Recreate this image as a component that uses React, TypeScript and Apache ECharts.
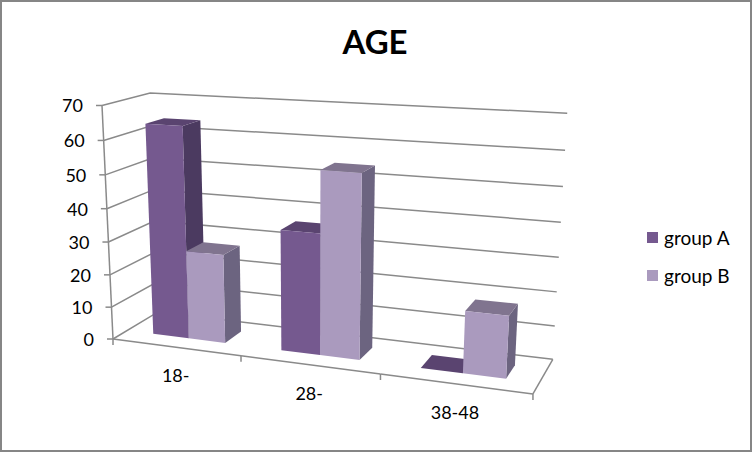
import React, { useEffect, useRef } from "react";
import * as echarts from "echarts";

const categories = ["18-", "28-", "38-48"];
const groupA = [64, 36, 0];
const groupB = [27, 54, 18];
const yTicks = [0, 10, 20, 30, 40, 50, 60, 70];
const seriesNames = ["group A", "group B"];

const FONT = "Lato, Carlito, 'Open Sans', sans-serif";
const GRID = { left: 113, top: 105.5, width: 420, height: 233.5 };
const LINE = "#8a8a8a";

// perspective frame of the Excel 3-D plot box
const O = [113, 339, 1];
const DX = [354.4, 6.5, -0.123];
const DY = [-16.4, -239.1, -0.053];
const DZ = [56.1, -5.2, 0.07];
function project(X: number, Y: number, Z: number): [number, number] {
  const h = [0, 1, 2].map((i) => O[i] + X * DX[i] + Y * DY[i] + Z * DZ[i]);
  return [h[0] / h[2], h[1] / h[2]];
}
const normY = (py: number) => (GRID.top + GRID.height - py) / GRID.height;
const normX = (px: number) => (px - GRID.left) / GRID.width;

const BAR_UNITS = 3.5; // two bars plus a 150% gap
const Z_FRONT = 0.3;
const Z_BACK = 0.7;

function barRenderer(seriesIndex: number, colors: { front: string; side: string; top: string }) {
  return (_params: any, api: any) => {
    const c = api.coord([api.value(0), api.value(1)]);
    const band = api.size([1, 0])[0] / GRID.width;
    const w = band / BAR_UNITS;
    const x0 = normX(c[0]) + (seriesIndex === 0 ? -w : 0);
    const x1 = x0 + w;
    const y = normY(c[1]);
    const poly = (pts: [number, number][], fill: string) => ({
      type: "polygon",
      shape: { points: pts },
      style: { fill, stroke: null },
    });
    const flb = project(x0, 0, Z_FRONT);
    const frb = project(x1, 0, Z_FRONT);
    const brb = project(x1, 0, Z_BACK);
    const flt = project(x0, y, Z_FRONT);
    const frt = project(x1, y, Z_FRONT);
    const brt = project(x1, y, Z_BACK);
    const blt = project(x0, y, Z_BACK);
    return {
      type: "group",
      children: [
        poly([frb, brb, brt, frt], colors.side),
        poly([flt, frt, brt, blt], colors.top),
        poly([flb, frb, frt, flt], colors.front),
      ],
    };
  };
}

function wallRenderer(_params: any, api: any) {
  const v = api.value(1);
  const y = normY(api.coord([0, v])[1]);
  const a = project(0, y, 0);
  const b = project(0, y, 1);
  const c = project(1, y, 1);
  return {
    type: "group",
    children: [
      {
        type: "polyline",
        shape: { points: [a, b, c] },
        style: { stroke: LINE, lineWidth: 1.5, fill: null },
      },
      {
        type: "line",
        shape: { x1: a[0] - 6, y1: a[1], x2: a[0], y2: a[1] },
        style: { stroke: LINE, lineWidth: 1.5 },
      },
      {
        type: "text",
        style: {
          text: String(v),
          x: a[0] - 19,
          y: a[1],
          align: "right",
          verticalAlign: "middle",
          fontSize: 18,
          fontFamily: FONT,
          fill: "#000",
        },
      },
    ],
  };
}

function floorRenderer(_params: any, api: any) {
  const i = api.value(0);
  const c = api.coord([i, 0]);
  const band = api.size([1, 0])[0] / GRID.width;
  const mid = project(normX(c[0]), 0, 0);
  const l = project(i * band, 0, 0);
  const r = project((i + 1) * band, 0, 0);
  const children: any[] = [
    { type: "line", shape: { x1: l[0], y1: l[1], x2: r[0], y2: r[1] }, style: { stroke: LINE, lineWidth: 1.5 } },
    { type: "line", shape: { x1: r[0], y1: r[1], x2: r[0], y2: r[1] + 6 }, style: { stroke: LINE, lineWidth: 1.5 } },
    {
      type: "text",
      style: {
        text: categories[i],
        x: mid[0],
        y: mid[1] + 28,
        align: "center",
        verticalAlign: "middle",
        fontSize: 18,
        fontFamily: FONT,
        fill: "#000",
      },
    },
  ];
  if (i === 0) {
    children.push({ type: "line", shape: { x1: l[0], y1: l[1], x2: l[0], y2: l[1] + 6 }, style: { stroke: LINE, lineWidth: 1.5 } });
    const top = project(0, 1, 0);
    children.push({ type: "line", shape: { x1: l[0], y1: l[1], x2: top[0], y2: top[1] }, style: { stroke: LINE, lineWidth: 1.5 } });
  }
  if (i === categories.length - 1) {
    const b = project(1, 0, 1);
    children.push({ type: "line", shape: { x1: r[0], y1: r[1], x2: b[0], y2: b[1] }, style: { stroke: LINE, lineWidth: 1.5 } });
  }
  return { type: "group", children };
}

export default function App() {
  const ref = useRef<HTMLDivElement>(null);
  useEffect(() => {
    document.body.style.margin = "0";
    const chart = echarts.init(ref.current!, undefined, { renderer: "svg" });
    chart.setOption({
      animation: false,
      backgroundColor: "#fff",
      title: {
        text: "AGE",
        left: 370,
        textAlign: "center",
        top: 19,
        textStyle: { fontSize: 33, fontWeight: "bold", fontFamily: FONT, color: "#000" },
      },
      legend: {
        orient: "vertical",
        left: 642,
        top: 223,
        itemWidth: 11,
        itemHeight: 11,
        itemGap: 19,
        icon: "rect",
        data: seriesNames,
        selectedMode: false,
        textStyle: { fontSize: 19, fontFamily: FONT, color: "#000", padding: [0, 0, 0, 1] },
      },
      grid: { ...GRID },
      xAxis: { type: "category", data: categories, show: false },
      yAxis: { type: "value", min: 0, max: 70, interval: 10, show: false },
      graphic: [
        {
          type: "rect",
          silent: true,
          z: 100,
          shape: { x: 1, y: 1, width: 750, height: 450 },
          style: { fill: "none", stroke: "#868686", lineWidth: 2 },
        },
      ],
      series: [
        {
          type: "custom",
          name: "walls",
          silent: true,
          z: 1,
          data: yTicks.map((t) => [0, t]),
          encode: { x: 0, y: 1 },
          renderItem: wallRenderer,
        },
        {
          type: "custom",
          name: "floor",
          silent: true,
          z: 1,
          data: categories.map((_, i) => [i, 0]),
          encode: { x: 0, y: 1 },
          renderItem: floorRenderer,
        },
        {
          type: "custom",
          name: seriesNames[0],
          z: 2,
          itemStyle: { color: "#75598f" },
          data: groupA.map((v, i) => [i, v]),
          encode: { x: 0, y: 1 },
          renderItem: barRenderer(0, { front: "#75598f", side: "#4b3a60", top: "#5a4470" }),
        },
        {
          type: "custom",
          name: seriesNames[1],
          z: 3,
          itemStyle: { color: "#aa9abe" },
          data: groupB.map((v, i) => [i, v]),
          encode: { x: 0, y: 1 },
          renderItem: barRenderer(1, { front: "#aa9abe", side: "#6c6480", top: "#80748f" }),
        },
      ],
    });
    return () => chart.dispose();
  }, []);
  return <div ref={ref} style={{ position: "absolute", left: 0, top: 0, width: 752, height: 452 }} />;
}
